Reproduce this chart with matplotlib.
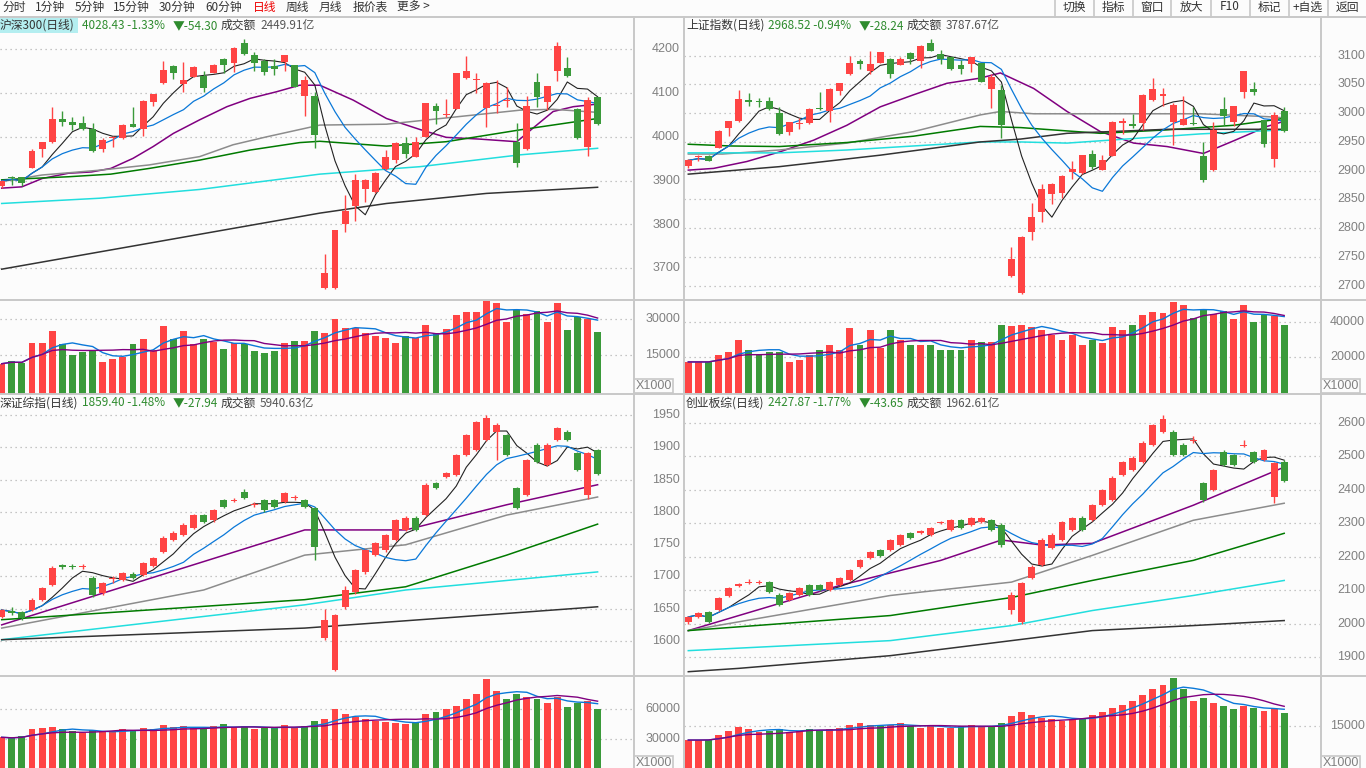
import numpy as np
import pandas as pd
import matplotlib
matplotlib.use('Agg')
import matplotlib.pyplot as plt
from matplotlib.patches import Rectangle

plt.rcParams['font.family'] = ['Noto Sans CJK SC', 'DejaVu Sans']

W, H = 1366, 768
BG = '#fcfcfc'
RED = '#ff4444'
GREEN = '#3a9a3a'
SEP = '#c8c8c8'
GRID = '#b4b4b4'
AXTXT = '#808080'
MA_COLS = {'ma5': '#222222', 'ma10': '#0a78d8', 'ma20': '#800080', 'ma30': '#8c8c8c',
           'ma60': '#007a00', 'ma120': '#22dede', 'ma250': '#333333'}

# ---------------- 沪深300 ----------------
hs_open = [3888, 3909, 3908, 3930, 3973, 3988, 4041, 4034, 4031, 4017, 3973, 3998, 3997, 4029, 4017,
           4079, 4122, 4162, 4121, 4137, 4139, 4147, 4178, 4168, 4214, 4187, 4173, 4163, 4170, 4164,
           4094, 4094, 3654, 3654, 3801, 3843, 3881, 3874, 3926, 3947, 3985, 3955, 4000, 4071, 4049,
           4064, 4135, 4130, 4067, 4071, 4082, 3989, 3972, 4125, 4080, 4151, 4157, 4064, 3978, 4090]
hs_high = [3902, 3911, 3909, 3972, 3989, 4068, 4059, 4046, 4048, 4031, 3997, 4002, 4029, 4068, 4084,
           4099, 4174, 4165, 4171, 4161, 4150, 4167, 4179, 4205, 4224, 4193, 4178, 4177, 4188, 4165,
           4140, 4103, 3733, 3788, 3868, 3915, 3903, 3919, 3970, 3988, 3999, 4000, 4078, 4078, 4087,
           4146, 4185, 4147, 4126, 4131, 4113, 4031, 4093, 4147, 4117, 4217, 4182, 4065, 4092, 4091]
hs_low = [3884, 3890, 3888, 3928, 3955, 3987, 4025, 4016, 4016, 3966, 3966, 3978, 3995, 4022, 4002,
          4071, 4121, 4133, 4103, 4136, 4103, 4146, 4147, 4149, 4188, 4151, 4141, 4141, 4151, 4114,
          4048, 3974, 3653, 3652, 3784, 3809, 3852, 3873, 3925, 3941, 3952, 3954, 3999, 4029, 4045,
          4063, 4132, 4100, 4023, 4054, 4069, 3931, 3971, 4069, 4061, 4128, 4137, 3995, 3956, 4027]
hs_close = [3900, 3906, 3894, 3968, 3988, 4042, 4034, 4027, 4019, 3968, 3993, 4000, 4027, 4023, 4082,
            4098, 4153, 4147, 4130, 4160, 4112, 4165, 4165, 4204, 4189, 4168, 4149, 4156, 4187, 4115,
            4131, 4004, 3689, 3787, 3831, 3902, 3902, 3917, 3954, 3987, 3961, 3988, 4077, 4058, 4052,
            4145, 4150, 4132, 4123, 4073, 4084, 3941, 4071, 4092, 4116, 4208, 4140, 3998, 4084, 4028.43]
hs_vol = [11500, 12700, 12000, 20300, 20300, 25200, 19800, 15200, 16200, 16900, 12400, 13300, 14100,
          19800, 21900, 17300, 27400, 21900, 25300, 19800, 21600, 20500, 17700, 20300, 19800, 16600,
          15800, 16900, 20300, 20800, 21000, 25200, 24500, 30200, 26500, 26200, 24100, 23100, 22300,
          20300, 23100, 22200, 27800, 24400, 26000, 31600, 33100, 33100, 37700, 36900, 28700, 33700,
          32300, 33500, 28700, 36900, 25600, 30900, 30100, 24800]
hs_ma20 = [(0, 3883), (2, 3886), (4, 3905), (6.6, 3917), (8.9, 3920), (10.8, 3928), (13, 3951),
           (15, 3978), (17, 4008), (19.6, 4039), (22.3, 4069), (24.6, 4088), (27.2, 4103), (29.5, 4118),
           (31.5, 4118), (34.8, 4084), (38.1, 4042), (41.4, 4017), (44, 3999), (47.3, 3995), (51, 3989),
           (52.6, 4020), (54.6, 4058), (56.6, 4069), (59, 4075)]
hs_ma30 = [(0, 3898), (4, 3913), (9.7, 3924), (14.6, 3936), (19.6, 3955), (22.9, 3982), (26.2, 4000),
           (31.5, 4027), (38.1, 4029), (44.7, 4045), (51.3, 4061), (54.6, 4063), (59, 4056)]
hs_ma60 = [(0, 3902), (6.6, 3909), (10.8, 3915), (14.6, 3928), (19.6, 3947), (24.6, 3970), (29.5, 3987),
           (31.5, 3990), (38.1, 3979), (44, 3989), (51.3, 4016), (59, 4042)]
hs_ma120 = [(0, 3848), (9.7, 3860), (19.6, 3880), (31.5, 3915), (41.4, 3932), (51.3, 3959), (59, 3974)]
hs_ma250 = [(0, 3698), (31.5, 3826), (38.1, 3848), (48, 3871), (59, 3885)]

# ---------------- 上证指数 ----------------
sh_open = [2909, 2923, 2926, 2940, 2974, 2986, 3023, 3020, 3021, 3001, 2968, 2981, 2983, 3008, 3003,
           3039, 3068, 3091, 3073, 3088, 3095, 3084, 3104, 3090, 3122, 3103, 3097, 3084, 3085, 3087,
           3042, 3040, 2717, 2687, 2794, 2829, 2859, 2862, 2897, 2896, 2929, 2902, 2926, 2983, 2981,
           2983, 3023, 3030, 2984, 2980, 2983, 2926, 2901, 3008, 2984, 3037, 3042, 2988, 2921, 3004]
sh_high = [2920, 2927, 2927, 2970, 2987, 3040, 3035, 3026, 3029, 3010, 2985, 2991, 3009, 3036, 3044,
           3053, 3100, 3095, 3109, 3107, 3096, 3098, 3107, 3118, 3129, 3110, 3098, 3092, 3098, 3088,
           3068, 3049, 2767, 2787, 2844, 2877, 2878, 2892, 2916, 2928, 2936, 2927, 2986, 2991, 2999,
           3033, 3062, 3044, 3017, 3030, 3011, 2950, 2984, 3028, 3013, 3074, 3055, 2989, 3002, 3010]
sh_low = [2904, 2917, 2916, 2939, 2961, 2985, 3013, 3010, 3006, 2962, 2962, 2972, 2982, 3006, 2985,
          3032, 3067, 3077, 3068, 3087, 3062, 3083, 3085, 3078, 3108, 3085, 3075, 3069, 3072, 3054,
          3009, 2957, 2716, 2686, 2779, 2810, 2842, 2853, 2885, 2895, 2903, 2901, 2925, 2963, 2974,
          2971, 3022, 3012, 2945, 2979, 2980, 2881, 2900, 2980, 2978, 3026, 3032, 2942, 2907, 2968]
sh_close = [2918, 2924, 2917, 2969, 2986, 3025, 3019, 3019, 3007, 2964, 2984, 2983, 3008, 3007, 3042,
            3052, 3087, 3086, 3085, 3106, 3068, 3095, 3094, 3117, 3109, 3095, 3076, 3077, 3097, 3055,
            3063, 2979, 2746, 2785, 2820, 2868, 2877, 2891, 2903, 2927, 2906, 2919, 2985, 2986, 2977,
            3032, 3042, 3033, 3014, 2990, 2981, 2883, 2971, 2995, 3012, 3073, 3037, 2946, 2997, 2968.52]
sh_vol = [17400, 17400, 17400, 21300, 23000, 29700, 24200, 21300, 23000, 23000, 17400, 18500, 21300,
          24200, 27000, 24200, 36500, 27000, 35400, 25300, 35400, 29700, 27000, 27000, 27000, 24200,
          24200, 24200, 29700, 28600, 28600, 38200, 37600, 38200, 37100, 35400, 32600, 29700, 32600,
          27000, 29700, 28100, 37100, 35400, 38200, 43800, 45500, 44900, 51100, 49400, 42100, 46600,
          44300, 46000, 41600, 49400, 39800, 43800, 43200, 38200]
sh_ma20 = [(0, 2901), (2.5, 2904), (5.8, 2916), (9.1, 2933), (12.4, 2953), (15.7, 2979), (19, 3011),
           (22.3, 3032), (25.6, 3052), (28.9, 3061), (30.9, 3070), (34.2, 3043), (37.5, 3003),
           (40.8, 2968), (44.1, 2948), (47.4, 2942), (51, 2930), (54, 2952), (57.3, 2977), (59, 2986)]
sh_ma30 = [(0, 2929), (3.4, 2929), (9, 2936), (15.7, 2948), (22.3, 2968), (28.9, 2997), (30.9, 3003),
           (34.2, 2999), (44.1, 2999), (50.7, 2999), (57.3, 2994), (59, 2992)]
sh_ma60 = [(0, 2946), (4.2, 2943), (9, 2942), (15.7, 2949), (22.3, 2960), (28.9, 2977), (32.9, 2975),
           (40.8, 2965), (47.4, 2971), (54, 2979), (59, 2991)]
sh_ma120 = [(0, 2931), (9, 2931), (15.7, 2936), (22.3, 2943), (28.9, 2950), (32.9, 2950), (37.5, 2948),
            (44.1, 2956), (50.7, 2964), (59, 2971)]
sh_ma250 = [(0, 2894), (9, 2907), (19, 2927), (28.9, 2950), (32.9, 2955), (37.5, 2965), (47.4, 2972),
            (59, 2972)]

# ---------------- 深证综指 ----------------
sz_open = [1637, 1647, 1645, 1648, 1664, 1687, 1717, 1716, 1715, 1698, 1674, 1696, 1695, 1704, 1702,
           1716, 1738, 1757, 1764, 1775, 1795, 1787, 1818, 1817, 1831, 1811, 1818, 1818, 1815, 1821,
           1818, 1806, 1605, 1555, 1653, 1676, 1707, 1733, 1741, 1757, 1772, 1791, 1795, 1845, 1854,
           1857, 1888, 1896, 1911, 1924, 1919, 1837, 1826, 1904, 1873, 1911, 1924, 1891, 1826, 1896]
sz_high = [1650, 1652, 1647, 1666, 1684, 1716, 1720, 1720, 1720, 1700, 1692, 1700, 1707, 1707, 1723,
           1730, 1762, 1770, 1782, 1797, 1797, 1805, 1820, 1822, 1835, 1815, 1820, 1820, 1831, 1826,
           1820, 1808, 1650, 1642, 1685, 1712, 1743, 1754, 1766, 1789, 1793, 1793, 1844, 1847, 1862,
           1890, 1921, 1941, 1950, 1937, 1921, 1839, 1882, 1906, 1906, 1932, 1926, 1893, 1893, 1898]
sz_low = [1635, 1640, 1633, 1646, 1662, 1685, 1712, 1711, 1712, 1668, 1672, 1690, 1693, 1696, 1700,
          1714, 1736, 1755, 1762, 1773, 1782, 1785, 1806, 1815, 1820, 1808, 1800, 1806, 1813, 1818,
          1806, 1725, 1602, 1553, 1650, 1673, 1704, 1731, 1738, 1755, 1770, 1770, 1793, 1835, 1852,
          1855, 1886, 1894, 1909, 1880, 1886, 1804, 1824, 1875, 1871, 1909, 1909, 1863, 1820, 1857]
sz_close = [1648, 1643, 1636, 1664, 1682, 1713, 1715, 1714, 1716, 1671, 1690, 1698, 1705, 1698, 1721,
            1729, 1760, 1767, 1780, 1795, 1784, 1803, 1808, 1818, 1822, 1812, 1803, 1808, 1829, 1822,
            1808, 1746, 1633, 1640, 1679, 1710, 1741, 1752, 1764, 1787, 1791, 1772, 1842, 1837, 1860,
            1888, 1919, 1939, 1945, 1935, 1888, 1806, 1880, 1877, 1904, 1930, 1911, 1865, 1891, 1859.40]
sz_vol = [32000, 31000, 33000, 40000, 41000, 42000, 40000, 38000, 36000, 39000, 37000, 38000, 40000,
          39000, 41000, 40000, 44000, 42000, 43000, 41000, 40000, 43000, 45000, 42000, 43000, 40000,
          41000, 42000, 44000, 42000, 43000, 48000, 50000, 60000, 55000, 52000, 50000, 48000, 47000,
          46000, 45000, 47000, 55000, 57000, 60000, 63000, 70000, 75000, 90000, 78000, 70000, 75000,
          72000, 70000, 66000, 72000, 62000, 66000, 68000, 60000]
sz_ma20 = [(0, 1625), (30, 1772), (40, 1772), (50, 1811), (59, 1842)]
sz_ma30 = [(0, 1620), (20, 1679), (30, 1733), (40, 1749), (50, 1795), (59, 1823)]
sz_ma60 = [(0, 1633), (30, 1664), (40, 1684), (50, 1733), (59, 1781)]
sz_ma120 = [(0, 1602), (30, 1656), (40, 1679), (59, 1707)]
sz_ma250 = [(0, 1602), (30, 1620), (45, 1637), (59, 1653)]

# ---------------- 创业板综 ----------------
cy_open = [2005, 2020, 2035, 2041, 2083, 2112, 2122, 2122, 2124, 2086, 2071, 2086, 2115, 2115, 2100,
           2115, 2130, 2169, 2196, 2220, 2220, 2235, 2271, 2272, 2265, 2300, 2280, 2310, 2295, 2304,
           2310, 2295, 2041, 2005, 2136, 2175, 2226, 2250, 2280, 2316, 2310, 2355, 2370, 2444, 2459,
           2483, 2534, 2573, 2573, 2534, 2547, 2421, 2400, 2513, 2504, 2532, 2513, 2489, 2379, 2483]
cy_close = [2020, 2032, 2005, 2077, 2106, 2118, 2124, 2124, 2094, 2056, 2092, 2106, 2086, 2100, 2124,
            2136, 2160, 2190, 2214, 2202, 2250, 2265, 2256, 2274, 2286, 2304, 2310, 2286, 2316, 2316,
            2280, 2235, 2086, 2121, 2169, 2250, 2265, 2304, 2316, 2280, 2355, 2400, 2435, 2483, 2495,
            2540, 2594, 2612, 2504, 2504, 2549, 2370, 2459, 2474, 2474, 2534, 2483, 2519, 2480, 2427.87]
cy_high = [2022, 2035, 2037, 2080, 2110, 2121, 2132, 2130, 2128, 2090, 2095, 2110, 2118, 2118, 2127,
           2140, 2163, 2194, 2218, 2224, 2253, 2268, 2275, 2280, 2290, 2307, 2313, 2314, 2320, 2320,
           2314, 2300, 2095, 2125, 2175, 2255, 2270, 2308, 2320, 2322, 2358, 2404, 2440, 2487, 2500,
           2545, 2598, 2625, 2578, 2540, 2560, 2425, 2463, 2520, 2508, 2550, 2516, 2522, 2484, 2490]
cy_low = [2000, 2017, 2002, 2038, 2080, 2110, 2118, 2119, 2090, 2052, 2068, 2083, 2083, 2097, 2097,
          2112, 2127, 2166, 2193, 2199, 2217, 2232, 2253, 2268, 2262, 2297, 2277, 2283, 2292, 2300,
          2277, 2230, 2030, 2000, 2133, 2171, 2222, 2247, 2277, 2276, 2307, 2352, 2367, 2440, 2456,
          2480, 2530, 2570, 2500, 2500, 2540, 2365, 2396, 2470, 2470, 2528, 2479, 2485, 2360, 2425]
cy_vol = [10200, 10200, 10300, 12000, 13400, 14900, 14000, 13000, 13500, 14000, 13000, 13500, 14000,
          13500, 14000, 14500, 15500, 16000, 15500, 15000, 15500, 16000, 15000, 14500, 15000, 14500,
          14500, 15000, 15500, 15000, 15000, 16000, 18500, 20000, 19000, 18000, 17500, 17000, 17500,
          18000, 19000, 20000, 21500, 22500, 24000, 26000, 28000, 29500, 31800, 28000, 24000, 25000,
          23000, 22000, 21000, 22000, 21500, 20500, 21000, 19700]
cy_ma20 = [(0, 1979), (15, 2114), (25, 2189), (31, 2250), (35, 2235), (40, 2240), (50, 2354), (59, 2468)]
cy_ma30 = [(0, 1979), (20, 2084), (32, 2124), (40, 2204), (50, 2309), (59, 2360)]
cy_ma60 = [(0, 1979), (20, 2024), (32, 2078), (40, 2129), (50, 2189), (59, 2270)]
cy_ma120 = [(0, 1919), (20, 1949), (32, 1994), (40, 2039), (50, 2084), (59, 2129)]
cy_ma250 = [(0, 1856), (5, 1866), (20, 1904), (32, 1949), (40, 1979), (50, 1994), (59, 2009)]

fig = plt.figure(figsize=(W / 100, H / 100), dpi=100, facecolor=BG)


def box(x0, y0, x1, y1):
    return [x0 / W, 1 - y1 / H, (x1 - x0) / W, (y1 - y0) / H]


def val(y, cal):
    (ya, va), (yb, vb) = cal
    return va + (y - ya) * (vb - va) / (yb - ya)


def clean(ax):
    ax.set_facecolor('none')
    for s in ax.spines.values():
        s.set_visible(False)
    ax.set_xticks([])
    ax.set_yticks([])


def panel(x0, x1, y0, ymid, y1, first_px, pcal, vcal, o, h, l, c, vol, knots, pticks, vticks, lab_x):
    n = len(c)
    idx = np.arange(n)
    step = 10.1
    xlim = (-first_px / step, (x1 - x0 - first_px) / step)
    o, h, l, c = map(np.asarray, (o, h, l, c))
    col = np.where(c >= o, RED, GREEN)

    ax = fig.add_axes(box(x0, y0, x1, ymid))
    clean(ax)
    ax.set_xlim(*xlim)
    ax.set_ylim(val(ymid, pcal), val(y0, pcal))
    onepx = (val(y0, pcal) - val(ymid, pcal)) / (ymid - y0)
    for t in pticks:
        ax.axhline(t, color=GRID, lw=0.9, ls=(0, (1, 3)), zorder=0)
        fig.text(lab_x / W, 1 - (y0 + (val(y0, pcal) - t) / onepx) / H, str(t),
                 ha='right', va='center', fontsize=9, color=AXTXT, family='Liberation Sans')
    # moving averages
    cs = pd.Series(c)
    ax.plot(idx, cs.rolling(5, min_periods=1).mean(), color=MA_COLS['ma5'], lw=0.8, zorder=3)
    ax.plot(idx, cs.rolling(10, min_periods=1).mean(), color=MA_COLS['ma10'], lw=0.9, zorder=3)
    for key, kn in zip(['ma20', 'ma30', 'ma60', 'ma120', 'ma250'], knots):
        xs, ys = zip(*kn)
        ax.plot(xs, ys, color=MA_COLS[key], lw=1.1, zorder=2)
    ax.vlines(idx, l, h, colors=col, lw=1.0, zorder=4)
    body = np.maximum(np.abs(c - o), onepx * 1.2)
    ax.bar(idx, body, bottom=np.minimum(o, c), width=0.68, color=col, lw=0, zorder=5)

    av = fig.add_axes(box(x0, ymid, x1, y1))
    clean(av)
    av.set_xlim(*xlim)
    vlo, vhi = val(y1, vcal), val(ymid, vcal)
    av.set_ylim(vlo, vhi)
    vpx = (vhi - vlo) / (y1 - ymid)
    for t in vticks:
        av.axhline(t, color=GRID, lw=0.9, ls=(0, (1, 3)), zorder=0)
        fig.text(lab_x / W, 1 - (ymid + (vhi - t) / vpx) / H, str(t),
                 ha='right', va='center', fontsize=9, color=AXTXT, family='Liberation Sans')
    vol = np.asarray(vol, float)
    av.bar(idx, vol - vlo, bottom=vlo, width=0.68, color=col, lw=0, zorder=2)
    vs = pd.Series(vol)
    av.plot(idx, vs.rolling(5, min_periods=1).mean(), color=MA_COLS['ma10'], lw=1.0, zorder=3)
    av.plot(idx, vs.rolling(10, min_periods=1).mean(), color=MA_COLS['ma20'], lw=1.0, zorder=3)


panel(0, 633, 33, 299, 394, 1.7, [(49.3, 4200), (268.3, 3700)], [(319.3, 30000), (355.3, 15000)],
      hs_open, hs_high, hs_low, hs_close, hs_vol, [hs_ma20, hs_ma30, hs_ma60, hs_ma120, hs_ma250],
      [4200, 4100, 4000, 3900, 3800, 3700], [30000, 15000], 680)
panel(684, 1320, 33, 299, 394, 4.3, [(55.7, 3100), (285.7, 2700)], [(321.7, 40000), (357.3, 20000)],
      sh_open, sh_high, sh_low, sh_close, sh_vol, [sh_ma20, sh_ma30, sh_ma60, sh_ma120, sh_ma250],
      [3100, 3050, 3000, 2950, 2900, 2850, 2800, 2750, 2700], [40000, 20000], 1365)
panel(0, 633, 411, 676, 768, 1.7, [(415, 1950), (641, 1600)], [(709.3, 60000), (739.3, 30000)],
      sz_open, sz_high, sz_low, sz_close, sz_vol, [sz_ma20, sz_ma30, sz_ma60, sz_ma120, sz_ma250],
      [1950, 1900, 1850, 1800, 1750, 1700, 1650, 1600], [60000, 30000], 680)
panel(684, 1320, 411, 676, 768, 4.3, [(423, 2600), (657, 1900)], [(726.3, 15000), (769.3, 0)],
      cy_open, cy_high, cy_low, cy_close, cy_vol, [cy_ma20, cy_ma30, cy_ma60, cy_ma120, cy_ma250],
      [2600, 2500, 2400, 2300, 2200, 2100, 2000, 1900], [15000], 1365)

# ---------------- frame, toolbar and titles ----------------
ov = fig.add_axes([0, 0, 1, 1])
clean(ov)
ov.set_xlim(0, W)
ov.set_ylim(H, 0)
for y in [16.5, 299.5, 394, 676]:
    ov.plot([0, W], [y, y], color=SEP, lw=1.4)
for x in [633.5, 683.5, 1320.5]:
    ov.plot([x, x], [16.5, H], color=SEP, lw=1.4)
for x in [1055, 1093.5, 1132.5, 1171, 1210.5, 1249.5, 1288.5, 1327.5]:
    ov.plot([x, x], [0, 16.5], color=SEP, lw=1.2)
for x0, y0 in [(634, 379), (1321, 379), (634, 756), (1321, 756)]:
    ov.add_patch(Rectangle((x0, y0), 39, 14, fc=BG, ec=SEP, lw=1.2))
    ov.text(x0 + 20, y0 + 7, 'X1000', ha='center', va='center', fontsize=9, color=AXTXT,
            family='Liberation Sans')

tool_left = ['分时', '1分钟', '5分钟', '15分钟', '30分钟', '60分钟', '日线', '周线', '月线', '报价表', '更多 >']
tool_left_x = [2, 35, 75, 113, 159, 205, 253, 286, 319, 353, 397]
for s, x in zip(tool_left, tool_left_x):
    ov.text(x, 7, s, ha='left', va='center', fontsize=8.5, color='#ee0000' if s == '日线' else '#333333')
tool_right = ['切换', '指标', '窗口', '放大', 'F10', '标记', '+自选', '返回']
tool_right_x = [1074, 1113, 1152, 1191, 1230, 1269, 1308, 1347]
for s, x in zip(tool_right, tool_right_x):
    ov.text(x, 7, s, ha='center', va='center', fontsize=8.5, color='#333333')

ov.add_patch(Rectangle((0, 18), 78, 15, fc='#b4eef0', ec='none'))
titles = [
    (0, 25.5, ['沪深300(日线)', '4028.43 -1.33%', '▼-54.30', '成交额', '2449.91亿']),
    (686, 25.5, ['上证指数(日线)', '2968.52 -0.94%', '▼-28.24', '成交额', '3787.67亿']),
    (0, 403, ['深证综指(日线)', '1859.40 -1.48%', '▼-27.94', '成交额', '5940.63亿']),
    (686, 403, ['创业板综(日线)', '2427.87 -1.77%', '▼-43.65', '成交额', '1962.61亿']),
]
offs = [0, 82, 173, 221, 260]
cols = ['#333333', '#2e8b2e', '#2e8b2e', '#333333', '#555555']
for x0, y, parts in titles:
    for s, dx, cc in zip(parts, offs, cols):
        ov.text(x0 + dx, y, s, ha='left', va='center', fontsize=8.5, color=cc)

fig.savefig('out.png', dpi=100, facecolor=BG)
